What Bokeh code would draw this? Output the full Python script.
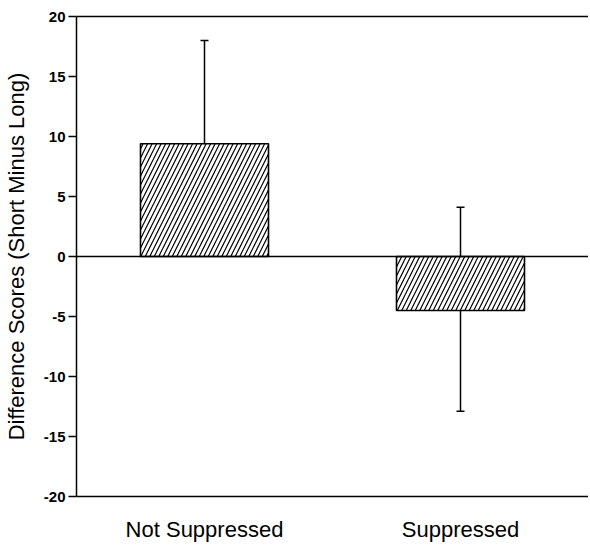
from bokeh.plotting import figure
from bokeh.models import ColumnDataSource, Whisker, Span, LinearAxis, FixedTicker, Range1d
from bokeh.embed import file_html
from bokeh.resources import INLINE

categories = ["Not Suppressed", "Suppressed"]
positions = [1, 3]
means = [9.4, -4.5]
upper = [18.0, 4.1]
lower = [1.0, -12.9]
y_ticks = [-20, -15, -10, -5, 0, 5, 10, 15, 20]
y_tick_labels = ["-20", "-15", "-10", "-5", "0", "5", "10", "15", "20"]

src = ColumnDataSource(dict(x=positions, top=means, upper=upper, lower=lower))

p = figure(width=588, height=544, output_backend="svg", toolbar_location=None,
           x_range=Range1d(0, 4), y_range=Range1d(-20, 20),
           min_border_left=76, min_border_right=0, min_border_top=16, min_border_bottom=48)
p.outline_line_color = None
p.grid.grid_line_color = None

p.vbar(x="x", top="top", bottom=0, width=1.0, source=src,
       fill_color="white", line_color="black", line_width=1.6,
       hatch_pattern="right_diagonal_line", hatch_color="black",
       hatch_scale=9, hatch_weight=1.2)

w = Whisker(base="x", upper="upper", lower="lower", source=src,
            line_color="black", line_width=1.5)
w.upper_head.size = 8
w.lower_head.size = 8
w.upper_head.line_width = 1.5
w.lower_head.line_width = 1.5
p.add_layout(w)

p.add_layout(Span(location=0, dimension="width", line_color="black", line_width=1.5))

# y axis
ya = p.yaxis[0]
ya.ticker = FixedTicker(ticks=y_ticks)
ya.major_label_overrides = {t: s for t, s in zip(y_ticks, y_tick_labels)}
ya.minor_tick_line_color = None
ya.major_tick_out = 8
ya.major_tick_in = 0
ya.major_tick_line_width = 1.5
ya.axis_line_width = 1.5
ya.major_label_text_font = "Liberation Sans"
ya.major_label_text_font_size = "15px"
ya.major_label_text_font_style = "bold"
ya.major_label_text_color = "black"
ya.axis_label = "Difference Scores (Short Minus Long)"
ya.axis_label_text_font = "Liberation Sans"
ya.axis_label_text_font_size = "22px"
ya.axis_label_text_font_style = "normal"
ya.axis_label_text_color = "black"
ya.axis_label_standoff = 12
ya.major_label_standoff = 3

# x axis
xa = p.xaxis[0]
xa.ticker = FixedTicker(ticks=positions)
xa.major_label_overrides = {pos: c for pos, c in zip(positions, categories)}
xa.major_tick_line_color = None
xa.minor_tick_line_color = None
xa.axis_line_width = 1.5
xa.major_label_text_font = "Liberation Sans"
xa.major_label_text_font_size = "22px"
xa.major_label_text_color = "black"
xa.major_label_standoff = 14

# top line
top = LinearAxis(ticker=FixedTicker(ticks=[]), axis_line_width=1.5,
                 major_tick_line_color=None, minor_tick_line_color=None,
                 major_label_text_font_size="0px")
p.add_layout(top, "above")

open("out.html", "w").write(file_html(p, INLINE))
